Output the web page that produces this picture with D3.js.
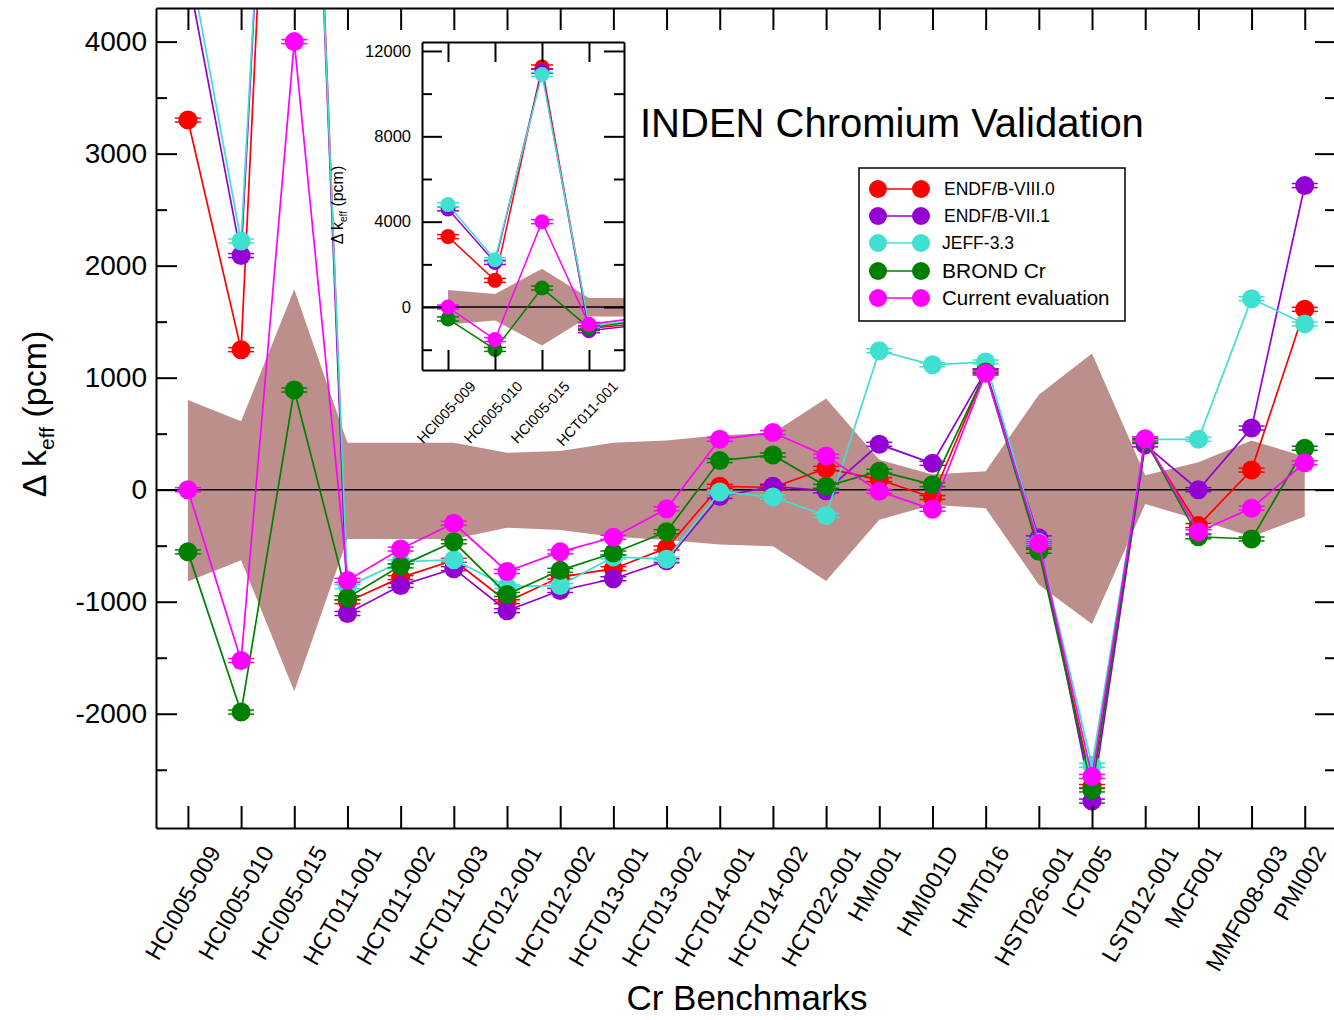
<!DOCTYPE html>
<html>
<head>
<meta charset="utf-8">
<script src="https://cdn.jsdelivr.net/npm/d3@7"></script>
<style>
  body { margin: 0; background: #fff; }
  text { font-family: "Liberation Sans", Arial, Helvetica, sans-serif; fill: #000; }
</style>
</head>
<body>
<div id="my_dataviz"></div>
<script>

// Data (Delta k_eff in pcm)
const benchmarks = ["HCI005-009", "HCI005-010", "HCI005-015", "HCT011-001", "HCT011-002",
  "HCT011-003", "HCT012-001", "HCT012-002", "HCT013-001", "HCT013-002", "HCT014-001",
  "HCT014-002", "HCT022-001", "HMI001", "HMI001D", "HMT016", "HST026-001", "ICT005",
  "LST012-001", "MCF001", "MMF008-003", "PMI002"];

const endfb80 = [3300, 1250, 11250, -1000, -785, -630, -1000, -780, -705, -520, 30, 20, 190, 90, -70, 1060, -500, -2650, 430, -320, 175, 1610];
const endfb71 = [4600, 2090, 11050, -1105, -855, -705, -1080, -900, -795, -635, -60, 30, -10, 405, 235, 1060, -430, -2780, 400, 0, 550, 2715];
const jeff33 = [4800, 2220, 10900, -865, -645, -625, -865, -855, -600, -620, -20, -65, -230, 1240, 1115, 1140, -470, -2460, 450, 450, 1705, 1480];
const brondCr = [-555, -1985, 890, -965, -680, -465, -935, -720, -565, -375, 260, 310, 30, 165, 45, 1050, -550, -2680, 440, -420, -440, 370];
const currentEval = [0, -1525, 4000, -810, -530, -300, -730, -555, -425, -170, 450, 510, 300, -15, -175, 1040, -480, -2560, 455, -375, -165, 240];

// experimental uncertainty band
const bandUpper = [800, 610, 1790, 420, 420, 420, 330, 345, 420, 440, 485, 505, 815, 268, 135, 165, 848, 1215, 130, 245, 440, 295];
const bandLower = [-820, -630, -1800, -440, -440, -440, -340, -360, -420, -450, -490, -505, -815, -268, -135, -165, -848, -1200, -128, -268, -420, -240];

const seriesNames = ["ENDF/B-VIII.0", "ENDF/B-VII.1", "JEFF-3.3", "BROND Cr", "Current evaluation"];
const seriesColors = ["#ff0000", "#9400d3", "#40e0d0", "#008000", "#ff00ff"];
const seriesValues = [endfb80, endfb71, jeff33, brondCr, currentEval];

const mainYTicks = [-2000, -1000, 0, 1000, 2000, 3000, 4000];
const mainYMinor = [-2500, -1500, -500, 500, 1500, 2500, 3500];
const insetYTicks = [0, 4000, 8000, 12000];
const insetYMinor = [-2000, 2000, 6000, 10000];
const insetCount = 4;

const series = seriesNames.map((name, k) => ({name: name, color: seriesColors[k], values: seriesValues[k]}));

const width = 1334, height = 1020;

const svg = d3.select("#my_dataviz")
  .append("svg")
    .attr("width", width)
    .attr("height", height);

// ---------- main plot ----------
const x = d3.scaleLinear().domain([-0.6, 21.55]).range([156, 1334]);
const y = d3.scaleLinear().domain([-3020, 4300]).range([828, 8]);
const idx = d3.range(benchmarks.length);

svg.append("clipPath").attr("id", "mainClip")
  .append("rect").attr("x", 156).attr("y", 8).attr("width", 1178).attr("height", 820);

const plot = svg.append("g").attr("clip-path", "url(#mainClip)");

// uncertainty band
plot.append("path")
  .datum(idx)
  .attr("fill", "#bc8f8c")
  .attr("d", d3.area()
    .x(i => x(i))
    .y0(i => y(bandLower[i]))
    .y1(i => y(bandUpper[i])));

// zero line
plot.append("line")
  .attr("x1", 156).attr("x2", 1334)
  .attr("y1", y(0)).attr("y2", y(0))
  .attr("stroke", "#000").attr("stroke-width", 1.5);

function drawSeries(g, xs, ys, r, cap, lw) {
  series.forEach(s => {
    const sg = g.append("g");
    sg.append("path")
      .datum(s.values)
      .attr("fill", "none")
      .attr("stroke", s.color)
      .attr("stroke-width", lw)
      .attr("d", d3.line().x((d, i) => xs(i)).y(d => ys(d)));
    const pts = sg.selectAll("g.pt")
      .data(s.values)
      .join("g")
      .attr("class", "pt")
      .attr("transform", (d, i) => `translate(${xs(i)},${ys(d)})`);
    [-2, 2].forEach(dy => {
      pts.append("line")
        .attr("x1", -cap).attr("x2", cap)
        .attr("y1", dy).attr("y2", dy)
        .attr("stroke", s.color).attr("stroke-width", 1.5);
    });
    pts.append("circle")
      .attr("r", r)
      .attr("fill", s.color);
  });
}

drawSeries(plot, x, y, 9.5, 13, 1.7);

// axes
function styleAxis(g) {
  g.selectAll("line").attr("stroke", "#000").attr("stroke-width", 2);
  g.selectAll(".domain").attr("stroke", "#000").attr("stroke-width", 2);
}
const plainNum = d => String(d);

svg.append("g")
  .attr("transform", "translate(0,828)")
  .call(d3.axisBottom(x).tickValues(idx).tickSize(-22).tickSizeOuter(0).tickFormat(""))
  .call(styleAxis);

svg.append("g")
  .attr("transform", "translate(0,8)")
  .call(d3.axisTop(x).tickValues(idx).tickSize(-22).tickSizeOuter(0).tickFormat(""))
  .call(styleAxis);

svg.append("g")
  .attr("transform", "translate(156,0)")
  .call(d3.axisLeft(y).tickValues(mainYTicks).tickSize(-21).tickSizeOuter(0).tickPadding(9).tickFormat(plainNum))
  .call(styleAxis)
  .call(g => g.selectAll("text").attr("font-size", 28).attr("fill", "#000"));

svg.append("g")
  .attr("transform", "translate(156,0)")
  .call(d3.axisLeft(y).tickValues(mainYMinor).tickSize(-11).tickSizeOuter(0).tickFormat(""))
  .call(styleAxis)
  .call(g => g.select(".domain").remove());

svg.append("g")
  .attr("transform", "translate(1334,0)")
  .call(d3.axisRight(y).tickValues(mainYTicks).tickSize(-19).tickSizeOuter(0).tickFormat(""))
  .call(styleAxis)
  .call(g => g.select(".domain").remove());

svg.append("g")
  .attr("transform", "translate(1334,0)")
  .call(d3.axisRight(y).tickValues(mainYMinor).tickSize(-9).tickSizeOuter(0).tickFormat(""))
  .call(styleAxis)
  .call(g => g.select(".domain").remove());

// rotated benchmark labels
const xLabels = svg.append("g").selectAll("text")
  .data(benchmarks)
  .join("text")
  .attr("font-size", 23.5)
  .attr("text-anchor", "end")
  .text(d => d);
xLabels.attr("transform", function(d, i) {
  const L = this.getComputedTextLength();
  return `translate(${x(i) + L / 4 + 2},852) rotate(-60)`;
});

// axis titles
svg.append("text")
  .attr("x", 747).attr("y", 1010)
  .attr("text-anchor", "middle")
  .attr("font-size", 35)
  .text("Cr Benchmarks");

const yTitle = svg.append("text")
  .attr("transform", "translate(46,414) rotate(-90)")
  .attr("text-anchor", "middle")
  .attr("font-size", 34);
yTitle.append("tspan").text("\u0394 k");
yTitle.append("tspan").attr("font-size", 21).attr("dy", 8).text("eff");
yTitle.append("tspan").attr("dy", -8).text(" (pcm)");

// title
svg.append("text")
  .attr("x", 640).attr("y", 137)
  .attr("font-size", 40)
  .text("INDEN Chromium Validation");

// ---------- legend ----------
const legend = svg.append("g");
legend.append("rect")
  .attr("x", 859).attr("y", 168).attr("width", 266).attr("height", 153)
  .attr("fill", "#fff").attr("stroke", "#000").attr("stroke-width", 1.5);
const legendRows = [189, 216, 243, 271, 298];
const legendFont = [17.5, 17.5, 17.5, 21, 20.5];
series.forEach((s, k) => {
  const ly = legendRows[k];
  legend.append("line")
    .attr("x1", 878).attr("x2", 921).attr("y1", ly).attr("y2", ly)
    .attr("stroke", s.color).attr("stroke-width", 1.7);
  legend.selectAll(null).data([878, 921]).join("circle")
    .attr("cx", d => d).attr("cy", ly).attr("r", 9)
    .attr("fill", s.color);
  legend.append("text")
    .attr("x", k < 2 ? 944 : 942).attr("y", ly)
    .attr("dy", "0.35em")
    .attr("font-size", legendFont[k])
    .text(s.name);
});

// ---------- inset ----------
const xi = d3.scaleLinear().domain([-0.553, 3.745]).range([422, 624]);
const yi = d3.scaleLinear().domain([-2950, 12420]).range([370, 42]);
const insetIdx = d3.range(insetCount);

svg.append("rect")
  .attr("x", 422).attr("y", 42).attr("width", 202).attr("height", 328)
  .attr("fill", "#fff");

svg.append("clipPath").attr("id", "insetClip")
  .append("rect").attr("x", 422).attr("y", 42).attr("width", 202).attr("height", 328);

const inset = svg.append("g").attr("clip-path", "url(#insetClip)");

inset.append("path")
  .datum(idx)
  .attr("fill", "#bc8f8c")
  .attr("d", d3.area()
    .x(i => xi(i))
    .y0(i => yi(bandLower[i]))
    .y1(i => yi(bandUpper[i])));

inset.append("line")
  .attr("x1", 422).attr("x2", 624)
  .attr("y1", yi(0)).attr("y2", yi(0))
  .attr("stroke", "#000").attr("stroke-width", 1.5);

drawSeries(inset, xi, yi, 7.5, 11, 1.5);

svg.append("g")
  .attr("transform", "translate(0,370)")
  .call(d3.axisBottom(xi).tickValues(insetIdx).tickSize(-20).tickSizeOuter(0).tickFormat(""))
  .call(styleAxis);

svg.append("g")
  .attr("transform", "translate(0,42)")
  .call(d3.axisTop(xi).tickValues(insetIdx).tickSize(-20).tickSizeOuter(0).tickFormat(""))
  .call(styleAxis);

svg.append("g")
  .attr("transform", "translate(422,0)")
  .call(d3.axisLeft(yi).tickValues(insetYTicks).tickSize(-20).tickSizeOuter(0).tickPadding(11).tickFormat(plainNum))
  .call(styleAxis)
  .call(g => g.selectAll("text").attr("font-size", 16.5).attr("fill", "#000"));

svg.append("g")
  .attr("transform", "translate(422,0)")
  .call(d3.axisLeft(yi).tickValues(insetYMinor).tickSize(-10).tickSizeOuter(0).tickFormat(""))
  .call(styleAxis)
  .call(g => g.select(".domain").remove());

svg.append("g")
  .attr("transform", "translate(624,0)")
  .call(d3.axisRight(yi).tickValues(insetYTicks).tickSize(-20).tickSizeOuter(0).tickFormat(""))
  .call(styleAxis);

svg.append("g")
  .attr("transform", "translate(624,0)")
  .call(d3.axisRight(yi).tickValues(insetYMinor).tickSize(-10).tickSizeOuter(0).tickFormat(""))
  .call(styleAxis)
  .call(g => g.select(".domain").remove());

const insetLabels = svg.append("g").selectAll("text")
  .data(benchmarks.slice(0, insetCount))
  .join("text")
  .attr("font-size", 14.5)
  .attr("text-anchor", "end")
  .text(d => d);
insetLabels.attr("transform", function(d, i) {
  const L = this.getComputedTextLength();
  return `translate(${xi(i) + L / 2 * 0.68 + 2},387) rotate(-47)`;
});

const insetYTitle = svg.append("text")
  .attr("transform", "translate(343,205) rotate(-90)")
  .attr("text-anchor", "middle")
  .attr("font-size", 16);
insetYTitle.append("tspan").text("\u0394 k");
insetYTitle.append("tspan").attr("font-size", 10).attr("dy", 4).text("eff");
insetYTitle.append("tspan").attr("dy", -4).text(" (pcm)");

</script>
</body>
</html>
